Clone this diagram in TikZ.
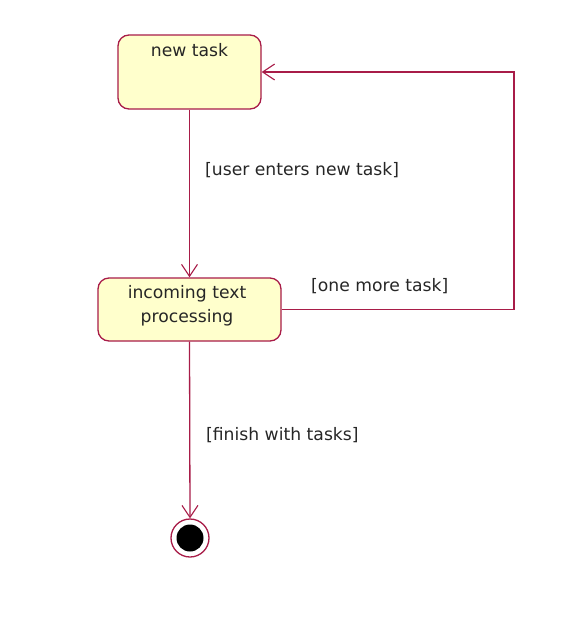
\documentclass[tikz,border=0pt]{standalone}
\usepackage{fontspec}
\setmainfont{DejaVu Sans}
\usetikzlibrary{arrows.meta}
\definecolor{umlred}{RGB}{168,28,72}
\definecolor{umlfill}{RGB}{255,255,204}
\tikzset{
  statebox/.style={draw=umlred, fill=umlfill, line width=1.3pt, rounded corners=11pt, inner sep=0pt},
  trans/.style={draw=umlred, line width=1.3pt, -{Straight Barb[length=12pt,width=16pt,line width=1.1pt]}},
  lbl/.style={font=\fontsize{17.2}{20}\selectfont, text=black!85, inner sep=0pt},
  statetxt/.style={font=\fontsize{17.2}{24}\selectfont, text=black!85, inner sep=0pt, align=center},
}
\begin{document}
\begin{tikzpicture}[x=1pt,y=-1pt]
\useasboundingbox (0,0) rectangle (569,622);
\node[statebox, minimum width=143pt, minimum height=74pt] (new) at (189.5,72) {};
\node[statetxt] (newtxt) at (189.5,50) {new task};
\node[statebox, minimum width=183pt, minimum height=63pt] (proc) at (189.5,309.5) {};
\node[statetxt] (proctxt) at (187,306) {incoming text\\ processing};
\node[circle, draw=umlred, line width=1.3pt, fill=white, minimum size=38pt, inner sep=0pt] (final) at (190,538) {};
\node[circle, fill=black, minimum size=27pt, inner sep=0pt] (finalin) at (final.center) {};
\coordinate (c1) at (514,309.5);
\coordinate (c2) at (514,72);
\draw[trans] (new.south) -- (proc.north);
\draw[trans] (proc.east) -- (c1) -- (c2) -- (new.east);
\draw[trans] (proc.south) -- (final.north);
\node[lbl, anchor=west] (l1) at (205,170) {[user enters new task]};
\node[lbl, anchor=west] (l2) at (311,286) {[one more task]};
\node[lbl, anchor=west] (l3) at (206,435) {[finish with tasks]};
\end{tikzpicture}
\end{document}
